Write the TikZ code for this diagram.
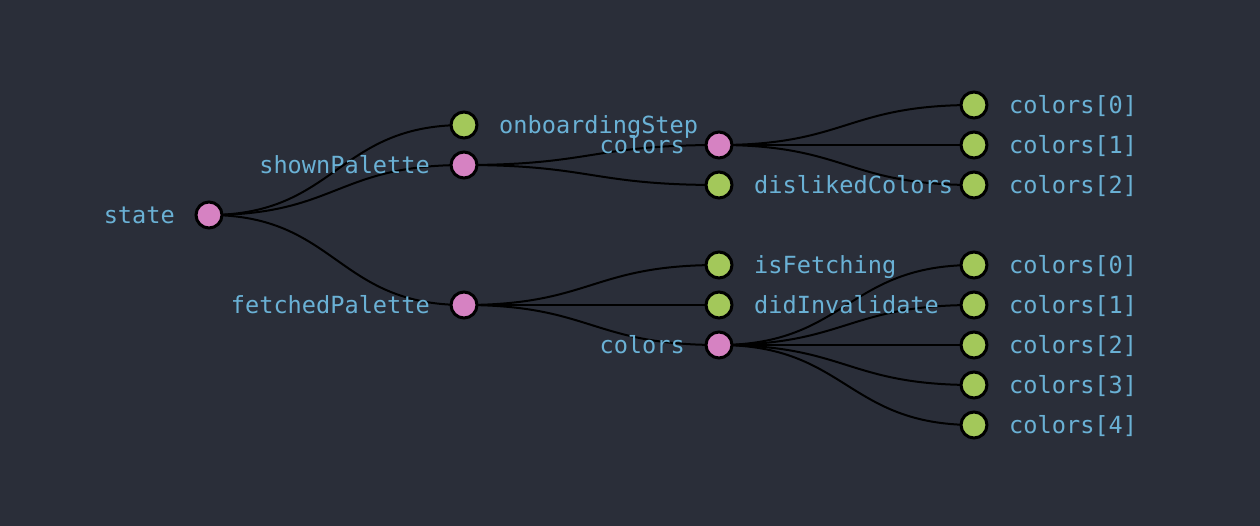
\documentclass[tikz,border=0pt]{standalone}
\usepackage{fontspec}
\setmonofont{DejaVu Sans Mono}
\usetikzlibrary{calc}
\definecolor{bgc}{HTML}{2A2E39}
\definecolor{pinkc}{HTML}{D682C2}
\definecolor{greenc}{HTML}{A3C85A}
\definecolor{textc}{HTML}{6AB1D5}
\pgfdeclarelayer{back}
\pgfdeclarelayer{edges}
\pgfsetlayers{back,edges,main}
\tikzset{
  inner/.style={circle, draw=black, line width=3pt, fill=pinkc, minimum size=26pt, inner sep=0pt},
  leaf/.style={circle, draw=black, line width=3pt, fill=greenc, minimum size=26pt, inner sep=0pt},
  lbl/.style={text=textc, inner sep=0pt, font=\ttfamily\fontsize{23.6}{28}\selectfont},
  rlbl/.style={lbl, anchor=base west},
  llbl/.style={lbl, anchor=base east},
  link/.style={draw=black, line width=2pt, to path={let \p1=(\tikztostart), \p2=(\tikztotarget) in .. controls ({(\x1+\x2)/2},\y1) and ({(\x1+\x2)/2},\y2) .. (\tikztotarget)}}
}
\begin{document}
\begin{tikzpicture}[x=1pt,y=-1pt]
\begin{pgfonlayer}{back}
\fill[bgc] (0,0) rectangle (1260,526);
\end{pgfonlayer}
\useasboundingbox (0,0) rectangle (1260,526);
% nodes
\node[inner] (st) at (209,215) {};
\node[leaf]  (ob) at (464,125) {};
\node[inner] (sp) at (464,165) {};
\node[inner] (fp) at (464,305) {};
\node[inner] (ca) at (719,145) {};
\node[leaf]  (dc) at (719,185) {};
\node[leaf]  (isf) at (719,265) {};
\node[leaf]  (did) at (719,305) {};
\node[inner] (cb) at (719,345) {};
\node[leaf] (a0) at (974,105) {};
\node[leaf] (a1) at (974,145) {};
\node[leaf] (a2) at (974,185) {};
\node[leaf] (b0) at (974,265) {};
\node[leaf] (b1) at (974,305) {};
\node[leaf] (b2) at (974,345) {};
\node[leaf] (b3) at (974,385) {};
\node[leaf] (b4) at (974,425) {};
% labels
\node[llbl] (tst) at ([xshift=-34pt,yshift=-8.5pt]st.center) {state};
\node[rlbl] (tob) at ([xshift=35pt,yshift=-8.5pt]ob.center) {onboardingStep};
\node[llbl] (tsp) at ([xshift=-34pt,yshift=-8.5pt]sp.center) {shownPalette};
\node[llbl] (tfp) at ([xshift=-34pt,yshift=-8.5pt]fp.center) {fetchedPalette};
\node[llbl] (tca) at ([xshift=-34pt,yshift=-8.5pt]ca.center) {colors};
\node[rlbl] (tdc) at ([xshift=35pt,yshift=-8.5pt]dc.center) {dislikedColors};
\node[rlbl] (tisf) at ([xshift=35pt,yshift=-8.5pt]isf.center) {isFetching};
\node[rlbl] (tdid) at ([xshift=35pt,yshift=-8.5pt]did.center) {didInvalidate};
\node[llbl] (tcb) at ([xshift=-34pt,yshift=-8.5pt]cb.center) {colors};
\node[rlbl] (ta0) at ([xshift=35pt,yshift=-8.5pt]a0.center) {colors[0]};
\node[rlbl] (ta1) at ([xshift=35pt,yshift=-8.5pt]a1.center) {colors[1]};
\node[rlbl] (ta2) at ([xshift=35pt,yshift=-8.5pt]a2.center) {colors[2]};
\node[rlbl] (tb0) at ([xshift=35pt,yshift=-8.5pt]b0.center) {colors[0]};
\node[rlbl] (tb1) at ([xshift=35pt,yshift=-8.5pt]b1.center) {colors[1]};
\node[rlbl] (tb2) at ([xshift=35pt,yshift=-8.5pt]b2.center) {colors[2]};
\node[rlbl] (tb3) at ([xshift=35pt,yshift=-8.5pt]b3.center) {colors[3]};
\node[rlbl] (tb4) at ([xshift=35pt,yshift=-8.5pt]b4.center) {colors[4]};
% links
\begin{pgfonlayer}{edges}
\foreach \p/\c in {st/ob, st/sp, st/fp, sp/ca, sp/dc, ca/a0, ca/a1, ca/a2,
  fp/isf, fp/did, fp/cb, cb/b0, cb/b1, cb/b2, cb/b3, cb/b4}
  \draw[link] (\p.center) to (\c.center);
\end{pgfonlayer}
\end{tikzpicture}
\end{document}
